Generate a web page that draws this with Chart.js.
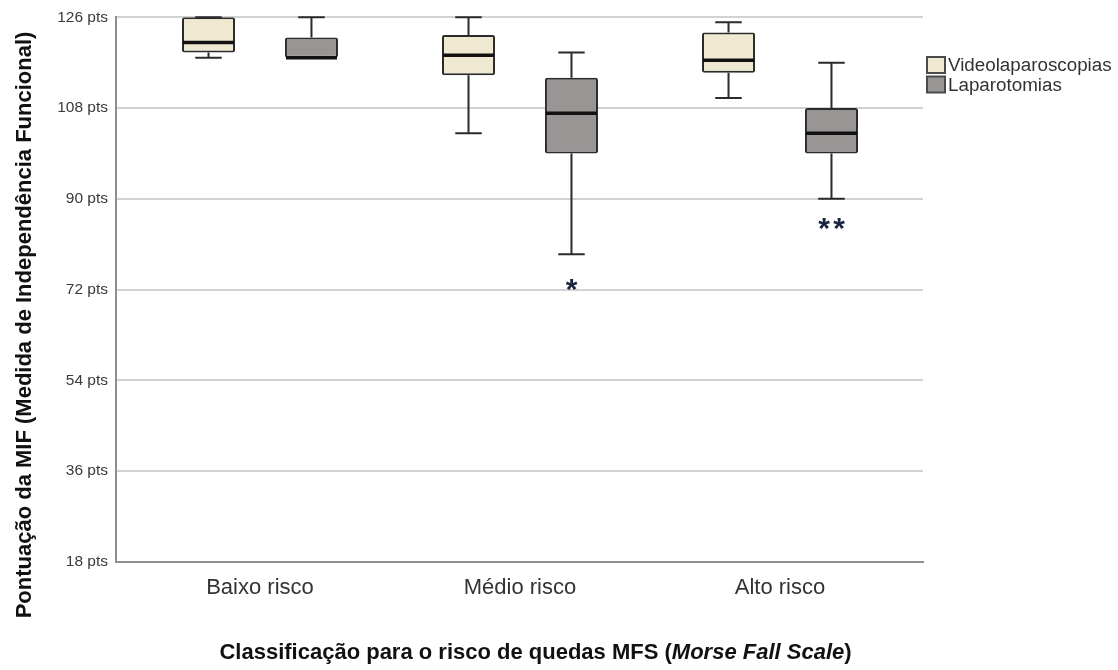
<!DOCTYPE html>
<html><head><meta charset="utf-8">
<script src="https://cdn.jsdelivr.net/npm/chart.js@4.4.1/dist/chart.umd.min.js"></script>
<style>html,body{margin:0;padding:0;background:#fff}#wrap{width:1118px;height:670px}</style>
</head><body><div id="wrap"><canvas id="c" width="1118" height="670"></canvas></div>
<script>
const categories = ['Baixo risco', 'Médio risco', 'Alto risco'];
const seriesNames = ['Videolaparoscopias', 'Laparotomias'];
const videoMin = [118, 103, 110];
const videoQ1 = [119, 114.5, 115];
const videoMedian = [121, 118.5, 117.5];
const videoQ3 = [126, 122.5, 123];
const videoMax = [126, 126, 125];
const lapMin = [118, 79, 90];
const lapQ1 = [118, 99, 99];
const lapMedian = [118, 107, 103];
const lapQ3 = [122, 114, 108];
const lapMax = [126, 119, 117];
const videoOutliers = [[], [], []];
const lapOutliers = [[], [74], [86, 86]];
const yTicks = [18, 36, 54, 72, 90, 108, 126];
const yTitle = 'Pontuação da MIF (Medida de Independência Funcional)';
const xTitleParts = [['Classificação para o risco de quedas MFS (', false], ['Morse Fall Scale', true], [')', false]];

const stats = [
  {min: videoMin, q1: videoQ1, med: videoMedian, q3: videoQ3, max: videoMax, out: videoOutliers},
  {min: lapMin, q1: lapQ1, med: lapMedian, q3: lapQ3, max: lapMax, out: lapOutliers}
];
const fills = ['#f0e9d1', '#9a9595'];
const LINE = '#2b2b2b';

const boxPlugin = {
  id: 'boxplot',
  beforeDatasetsDraw(chart) {
    const ctx = chart.ctx, y = chart.scales.y;
    ctx.save();
    ctx.strokeStyle = LINE; ctx.lineWidth = 2;
    chart.data.datasets.forEach((ds, di) => {
      const s = stats[di];
      chart.getDatasetMeta(di).data.forEach((el, j) => {
        const p = el.getProps(['x', 'width'], true);
        const cw = p.width * 0.5;
        const yMax = y.getPixelForValue(s.max[j]), yQ3 = y.getPixelForValue(s.q3[j]);
        const yMin = y.getPixelForValue(s.min[j]), yQ1 = y.getPixelForValue(s.q1[j]);
        ctx.beginPath();
        ctx.moveTo(p.x, yQ3); ctx.lineTo(p.x, yMax);
        ctx.moveTo(p.x - cw / 2, yMax); ctx.lineTo(p.x + cw / 2, yMax);
        ctx.moveTo(p.x, yQ1); ctx.lineTo(p.x, yMin);
        ctx.moveTo(p.x - cw / 2, yMin); ctx.lineTo(p.x + cw / 2, yMin);
        ctx.stroke();
      });
    });
    ctx.restore();
  },
  afterDatasetsDraw(chart) {
    const ctx = chart.ctx, y = chart.scales.y;
    ctx.save();
    chart.data.datasets.forEach((ds, di) => {
      const s = stats[di];
      chart.getDatasetMeta(di).data.forEach((el, j) => {
        const p = el.getProps(['x', 'width'], true);
        const ym = y.getPixelForValue(s.med[j]);
        ctx.strokeStyle = '#111'; ctx.lineWidth = 3.5;
        ctx.beginPath(); ctx.moveTo(p.x - p.width / 2 + 1, ym); ctx.lineTo(p.x + p.width / 2 - 1, ym); ctx.stroke();
        const outs = s.out[j];
        if (outs.length) {
          ctx.fillStyle = '#1b2440';
          ctx.font = 'bold 30px "Liberation Sans"';
          ctx.textAlign = 'center'; ctx.textBaseline = 'alphabetic';
          const groups = {};
          outs.forEach(v => { groups[v] = (groups[v] || 0) + 1; });
          Object.keys(groups).forEach(k => {
            const n = groups[k], step = 15;
            for (let t = 0; t < n; t++) {
              const xx = p.x + (t - (n - 1) / 2) * step;
              ctx.fillText('*', xx, y.getPixelForValue(+k) + 19);
            }
          });
        }
      });
    });
    ctx.restore();
  },
  afterDraw(chart) {
    const ctx = chart.ctx, a = chart.chartArea;
    ctx.save();
    ctx.fillStyle = '#111';
    ctx.font = 'bold 22px "Liberation Sans"';
    ctx.translate(25, 325); ctx.rotate(-Math.PI / 2);
    ctx.textAlign = 'center'; ctx.textBaseline = 'middle';
    ctx.fillText(yTitle, 0, 0);
    ctx.restore();
    ctx.save();
    ctx.fillStyle = '#111'; ctx.textBaseline = 'alphabetic'; ctx.textAlign = 'left';
    const fontOf = it => (it ? 'italic bold 22px "Liberation Sans"' : 'bold 22px "Liberation Sans"');
    let total = 0;
    xTitleParts.forEach(([t, it]) => { ctx.font = fontOf(it); total += ctx.measureText(t).width; });
    let x = (a.left + a.right) / 2 + 16 - total / 2;
    xTitleParts.forEach(([t, it]) => { ctx.font = fontOf(it); ctx.fillText(t, x, 659); x += ctx.measureText(t).width; });
    ctx.restore();
    ctx.save();
    ctx.font = '18.8px "Liberation Sans"';
    ctx.textBaseline = 'middle'; ctx.textAlign = 'left';
    chart.data.datasets.forEach((ds, i) => {
      const cy = 65 + i * 19.5;
      ctx.fillStyle = ds.backgroundColor;
      ctx.fillRect(a.right + 4, cy - 8, 18, 16);
      ctx.strokeStyle = '#4a4a4a'; ctx.lineWidth = 2;
      ctx.strokeRect(a.right + 4, cy - 8, 18, 16);
      ctx.fillStyle = '#333';
      ctx.fillText(ds.label, a.right + 25, cy + 1);
    });
    ctx.restore();
  }
};

new Chart(document.getElementById('c'), {
  type: 'bar',
  data: {
    datasets: stats.map((s, di) => ({
      label: seriesNames[di],
      data: categories.map((c, i) => ({x: i, y: [s.q1[i], s.q3[i]]})),
      backgroundColor: fills[di],
      borderColor: LINE,
      borderWidth: 2,
      borderSkipped: false,
      borderRadius: 2
    }))
  },
  options: {
    responsive: false, animation: false, devicePixelRatio: 1,
    layout: {padding: {top: 14, right: 195, left: 0, bottom: 0}},
    datasets: {bar: {categoryPercentage: 0.792, barPercentage: 0.515}},
    plugins: {legend: {display: false}, tooltip: {enabled: false}},
    scales: {
      x: {
        type: 'linear', min: -0.5538, max: 2.55, offset: false,
        afterBuildTicks: s => { s.ticks = categories.map((c, i) => ({value: i})); },
        afterFit: s => { s.height = 108; },
        ticks: {callback: v => categories[Math.round(v)], font: {family: 'Liberation Sans', size: 22}, color: '#333', padding: 13, autoSkip: false, maxRotation: 0},
        grid: {display: false, drawTicks: false, offset: false},
        border: {display: true, color: '#8f8f8f', width: 2}
      },
      y: {
        min: 18, max: 126,
        afterBuildTicks: s => { s.ticks = yTicks.map(v => ({value: v})); },
        afterFit: s => { s.width = 116; },
        ticks: {callback: v => v + ' pts', font: {family: 'Liberation Sans', size: 15.5}, color: '#3a3a3a', padding: 8},
        grid: {color: '#d2d2d2', lineWidth: 2, drawTicks: false},
        border: {display: true, color: '#8f8f8f', width: 2}
      }
    }
  },
  plugins: [boxPlugin]
});
</script></body></html>
